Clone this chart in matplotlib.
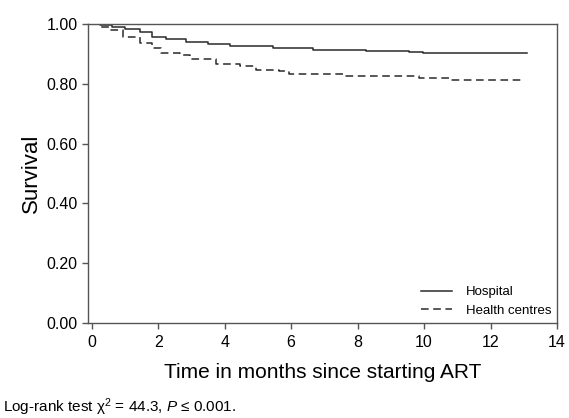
import matplotlib
matplotlib.use("Agg")
import matplotlib.pyplot as plt

plt.rcParams['font.family'] = ['Liberation Sans', 'DejaVu Sans']
plt.rcParams['mathtext.fontset'] = 'custom'
plt.rcParams['mathtext.rm'] = 'Liberation Sans'
plt.rcParams['mathtext.it'] = 'Liberation Sans:italic'

# Hospital survival (step function)
hosp_t = [0.0, 0.25, 0.6, 1.0, 1.45, 1.8, 2.25, 2.85, 3.5, 4.15, 5.45, 6.65, 8.25, 9.56, 9.96, 13.1]
hosp_s = [1.0, 0.995, 0.99, 0.982, 0.972, 0.958, 0.949, 0.939, 0.932, 0.927, 0.919, 0.912, 0.909, 0.907, 0.903, 0.903]

# Health centres survival (step function)
hc_t = [0.0, 0.25, 0.55, 0.95, 1.45, 1.8, 2.1, 2.65, 2.95, 3.75, 4.45, 4.95, 5.65, 5.95, 7.65, 9.86, 10.76, 13.0]
hc_s = [1.0, 0.99, 0.98, 0.958, 0.936, 0.919, 0.902, 0.897, 0.882, 0.866, 0.86, 0.847, 0.844, 0.832, 0.826, 0.819, 0.813, 0.813]

xticks = [0, 2, 4, 6, 8, 10, 12, 14]
yticks = [0.0, 0.2, 0.4, 0.6, 0.8, 1.0]

fig = plt.figure(figsize=(5.69, 4.18), dpi=100)
ax = fig.add_axes([0.1547, 0.2273, 0.979 - 0.1547, 0.9426 - 0.2273])

col = '#2a2a2a'
ax.step(hosp_t, hosp_s, where='post', color=col, lw=1.1, label='Hospital')
ax.step(hc_t, hc_s, where='post', color=col, lw=1.1, ls=(0, (5, 3)), label='Health centres')

ax.set_xlim(-0.11, 14.0)
ax.set_ylim(0.0, 1.0)
ax.set_xticks(xticks)
ax.set_yticks(yticks)
ax.set_yticklabels([f"{v:.2f}" for v in yticks])
for sp in ax.spines.values():
    sp.set_color('#555555')
    sp.set_linewidth(1.0)
ax.tick_params(direction='out', length=4, width=1.0, colors='#555555', labelcolor='black', labelsize=11.5)
ax.tick_params(axis='x', pad=5)

ax.set_xlabel('Time in months since starting ART', fontsize=15, labelpad=9)
ax.set_ylabel('Survival', fontsize=16, labelpad=3)

leg = ax.legend(loc='lower right', frameon=False, fontsize=9.5, handlelength=2.3,
                handletextpad=1.05, labelspacing=0.5, borderaxespad=0.05)

fig.text(0.006, 0.015, r"Log-rank test χ$^{2}$ = 44.3, $P$ ≤ 0.001.", fontsize=11, ha='left', va='baseline')

fig.savefig('out.png', dpi=100)
